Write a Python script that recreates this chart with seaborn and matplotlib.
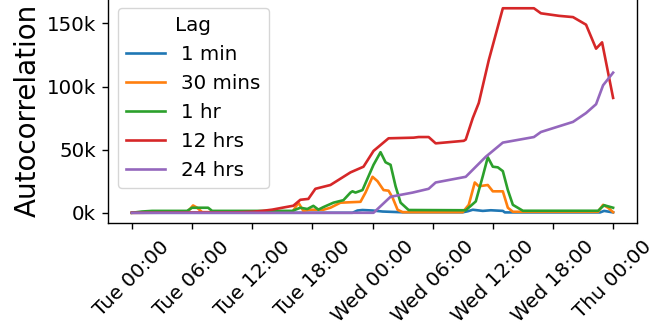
import pandas as pd
import matplotlib
matplotlib.use("Agg")
import matplotlib.pyplot as plt
import matplotlib.dates as mdates
from matplotlib.ticker import MultipleLocator, FuncFormatter
import seaborn as sns

# Data: hours since Tue 00:00, autocorrelation in thousands
lags = ["1 min", "30 mins", "1 hr", "12 hrs", "24 hrs"]

hours_1min = [0, 22, 22.5, 23, 24, 25, 27, 33, 33.5, 34, 35, 35.8, 37, 37.2, 46.7, 47.1, 48]
vals_1min = [0, 0, 1.8, 2.2, 1.8, 1.0, 0.4, 0.4, 1.2, 2.4, 1.5, 2.0, 1.5, 0.3, 0.3, 1.5, 0.3]

hours_30min = [0, 5.5, 6.1, 6.5, 7, 16, 16.6, 17.1, 17.8, 19.1, 19.8, 20.8, 22.8, 23.3, 24,
               24.5, 25.1, 25.6, 26, 26.5, 27, 33, 33.6, 34.2, 34.6, 35.5, 36, 37, 37.5,
               38, 46.5, 47, 47.5, 48]
vals_30min = [0, 0.3, 5.8, 4, 0.5, 0.5, 8, 1.5, 2.4, 2.4, 4, 8, 8.7, 16, 28.5,
              25, 18, 17.5, 12, 2.4, 0.5, 0.5, 6.3, 24, 21, 22, 17, 17, 4,
              0.8, 0.8, 6.3, 4, 0.5]

hours_1hr = [0, 1, 2, 5.5, 6, 7, 7.6, 8, 16, 16.8, 17.5, 18.1, 18.6, 19.1, 20.1, 21.1,
             21.8, 22, 22.3, 23, 24.1, 24.8, 25.3, 25.8, 26.3, 26.8, 27.6, 33.3, 34.3,
             35, 35.5, 36, 36.5, 37, 37.5, 38, 39, 46.5, 47.1, 48]
vals_1hr = [0, 1, 1.5, 1.5, 4, 4, 4, 1.5, 1.5, 4, 3, 5.5, 2.5, 4.5, 8, 10,
            16, 17, 16, 18, 38, 48, 40, 38, 21, 8, 2.2, 2.0, 9,
            29, 44, 36.5, 36, 33, 18, 6.3, 1.6, 1.6, 6.0, 4]

hours_12hr = [0, 10, 11, 12, 13, 14, 15, 16.1, 16.8, 17.6, 18.3, 19.8, 20.6, 21.8, 23.1,
              24.1, 25.6, 28.1, 28.6, 29.6, 30.3, 33.1, 33.3, 34, 34.6, 35.6, 37, 40.1,
              40.8, 42.6, 44, 45.3, 46.3, 46.9, 48]
vals_12hr = [0, 0.3, 0.5, 0.8, 1.5, 2.5, 4, 5.6, 10.3, 11, 19, 22, 26, 32, 36.5,
             49, 59, 59.5, 60, 60, 55, 57, 58, 75, 87, 121, 162, 162,
             158, 156, 155, 149, 130, 135, 91]

hours_24hr = [0, 24.1, 25.8, 28, 29.6, 30.3, 33.3, 35.3, 37, 40.1, 40.8, 42, 44, 45.3,
              46.3, 47, 48]
vals_24hr = [0, 0, 12.7, 16, 19, 24, 28.5, 44.4, 55.6, 60, 64, 67, 72, 79,
             86, 101, 111]

series = {
    "1 min": (hours_1min, vals_1min),
    "30 mins": (hours_30min, vals_30min),
    "1 hr": (hours_1hr, vals_1hr),
    "12 hrs": (hours_12hr, vals_12hr),
    "24 hrs": (hours_24hr, vals_24hr),
}

start = pd.Timestamp("2019-01-01")  # a Tuesday
frames = []
for lag in lags:
    h, v = series[lag]
    frames.append(pd.DataFrame({
        "time": start + pd.to_timedelta(h, unit="h"),
        "value": v,
        "Lag": lag,
    }))
df = pd.concat(frames, ignore_index=True)

fig = plt.figure(figsize=(6.7, 3.27), dpi=100)
ax = fig.add_axes([0.161, 0.318, 0.79, 0.688])

sns.lineplot(data=df, x="time", y="value", hue="Lag", hue_order=lags,
             estimator=None, linewidth=1.9, ax=ax)

ax.xaxis.set_major_locator(mdates.HourLocator(byhour=[0, 6, 12, 18]))
ax.xaxis.set_major_formatter(mdates.DateFormatter("%a %H:%M"))
ax.yaxis.set_major_locator(MultipleLocator(50))
ax.yaxis.set_major_formatter(FuncFormatter(lambda v, p: f"{v:.0f}k"))

ax.tick_params(axis="both", labelsize=14.3, length=4.2, width=1.0, pad=4.2)
ax.tick_params(axis="x", pad=6)
plt.setp(ax.get_xticklabels(), rotation=45, ha="center")
for s in ax.spines.values():
    s.set_linewidth(1.0)
ax.set_xlabel("")
ax.set_ylabel("Autocorrelation", fontsize=20)

leg = ax.legend(title="Lag", loc="upper left", fontsize=14.3, title_fontsize=14.3)

fig.savefig("out.png", dpi=100)
